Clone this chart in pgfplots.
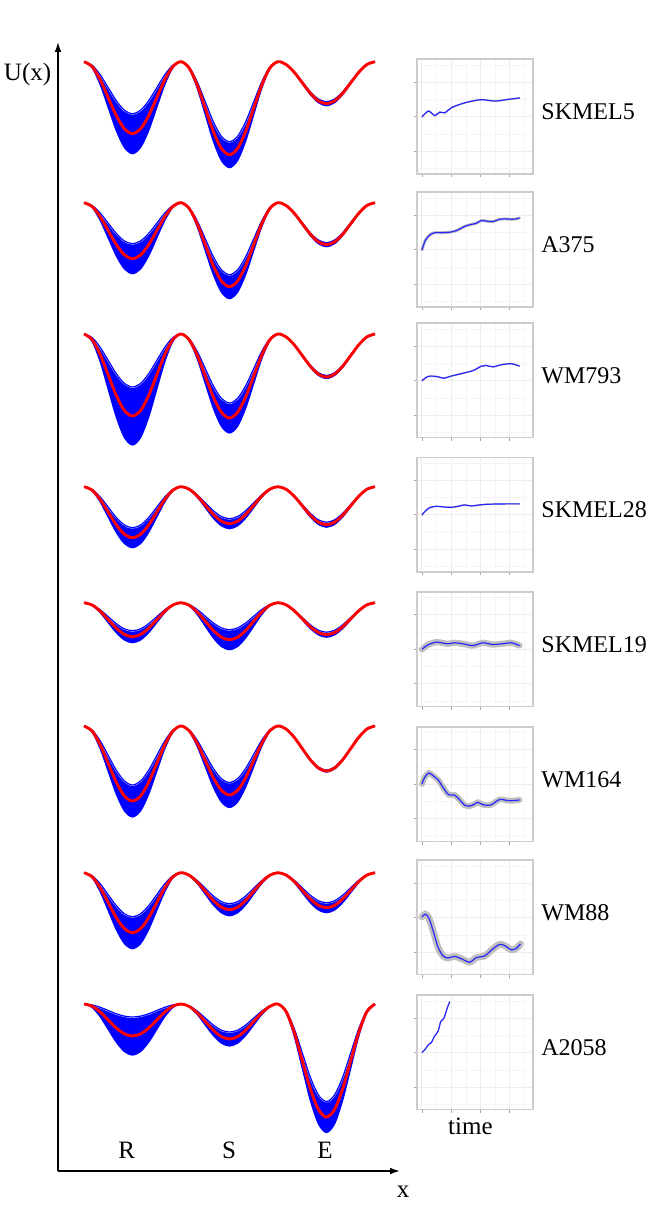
\documentclass[border=0pt]{standalone}
\usepackage{fontspec}
\setmainfont{Liberation Serif}
\usepackage{pgfplots}
\usepackage{pgfplotstable}
\pgfplotsset{compat=1.18}
\usetikzlibrary{arrows.meta}

% potential wells: mean u and error e for the 8 cell lines (1..8 top to bottom)
\pgfplotstableread{
x      u1     e1    u2     e2    u3     e3    u4     e4   u5     e5   u6     e6    u7     e7    u8      e8
0      0      0     0      0     0      0     0      0    0      0    0      0     0      0     0       0
0.0833 -4.82  1.34  -3.75  1.0   -5.49  1.94  -3.42  0.67 -2.28  0.4  -5.03  1.07  -4.02  1.07  -2.14   1.27
0.1667 -18    5     -14    3.75  -20.5  7.25  -12.75 2.5  -8.5   1.5  -18.75 4     -15    4     -8      4.75
0.25   -36    10    -28    7.5   -41    14.5  -25.5  5    -17    3    -37.5  8     -30    8     -16     9.5
0.3333 -54    15    -42    11.25 -61.5  21.75 -38.25 7.5  -25.5  4.5  -56.25 12    -45    12    -24     14.25
0.4167 -67.18 18.66 -52.25 14    -76.51 27.06 -47.58 9.33 -31.72 5.6  -69.98 14.93 -55.98 14.93 -29.86  17.73
0.5    -72    20    -56    15    -82    29    -51    10   -34    6    -75    16    -60    16    -32     19
0.5833 -67.18 18.66 -52.25 14    -76.51 27.06 -47.58 9.33 -31.72 5.6  -69.98 14.93 -55.98 14.93 -29.86  17.73
0.6667 -54    15    -42    11.25 -61.5  21.75 -38.25 7.5  -25.5  4.5  -56.25 12    -45    12    -24     14.25
0.75   -36    10    -28    7.5   -41    14.5  -25.5  5    -17    3    -37.5  8     -30    8     -16     9.5
0.8333 -18    5     -14    3.75  -20.5  7.25  -12.75 2.5  -8.5   1.5  -18.75 4     -15    4     -8      4.75
0.9167 -4.82  1.34  -3.75  1.0   -5.49  1.94  -3.42  0.67 -2.28  0.4  -5.03  1.07  -4.02  1.07  -2.14   1.27
1      0      0     0      0     0      0     0      0    0      0    0      0     0      0     0       0
1.0833 -6.23  0.87  -5.63  0.8   -5.63  1.0   -2.48  0.34 -2.48  0.67 -4.62  0.84  -2.48  0.4   -2.35   0.47
1.1667 -23.25 3.25  -21    3     -21    3.75  -9.25  1.25 -9.25  2.5  -17.25 3.13  -9.25  1.5   -8.75   1.75
1.25   -46.5  6.5   -42    6     -42    7.5   -18.5  2.5  -18.5  5    -34.5  6.25  -18.5  3     -17.5   3.5
1.3333 -69.75 9.75  -63    9     -63    11.25 -27.75 3.75 -27.75 7.5  -51.75 9.38  -27.75 4.5   -26.25  5.25
1.4167 -86.77 12.13 -78.37 11.2  -78.37 14    -34.52 4.67 -34.52 9.33 -64.38 11.66 -34.52 5.6   -32.66  6.53
1.5    -93    13    -84    12    -84    15    -37    5    -37    10   -69    12.5  -37    6     -35     7
1.5833 -86.77 12.13 -78.37 11.2  -78.37 14    -34.52 4.67 -34.52 9.33 -64.38 11.66 -34.52 5.6   -32.66  6.53
1.6667 -69.75 9.75  -63    9     -63    11.25 -27.75 3.75 -27.75 7.5  -51.75 9.38  -27.75 4.5   -26.25  5.25
1.75   -46.5  6.5   -42    6     -42    7.5   -18.5  2.5  -18.5  5    -34.5  6.25  -18.5  3     -17.5   3.5
1.8333 -23.25 3.25  -21    3     -21    3.75  -9.25  1.25 -9.25  2.5  -17.25 3.13  -9.25  1.5   -8.75   1.75
1.9167 -6.23  0.87  -5.63  0.8   -5.63  1.0   -2.48  0.34 -2.48  0.67 -4.62  0.84  -2.48  0.4   -2.35   0.47
2      0      0     0      0     0      0     0      0    0      0    0      0     0      0     0       0
2.0833 -2.81  0.13  -2.81  0.13  -2.88  0.1   -2.55  0.17 -2.14  0.17 -3.02  0.07  -2.35  0.34  -7.57   1.04
2.1667 -10.5  0.5   -10.5  0.5   -10.75 0.38  -9.5   0.63 -8     0.63 -11.25 0.25  -8.75  1.25  -28.25  3.88
2.25   -21    1     -21    1     -21.5  0.75  -19    1.25 -16    1.25 -22.5  0.5   -17.5  2.5   -56.5   7.75
2.3333 -31.5  1.5   -31.5  1.5   -32.25 1.13  -28.5  1.88 -24    1.88 -33.75 0.75  -26.25 3.75  -84.75  11.63
2.4167 -39.19 1.87  -39.19 1.87  -40.12 1.4   -35.45 2.33 -29.86 2.33 -41.99 0.93  -32.66 4.67  -105.43 14.46
2.5    -42    2     -42    2     -43    1.5   -38    2.5  -32    2.5  -45    1     -35    5     -113    15.5
2.5833 -39.19 1.87  -39.19 1.87  -40.12 1.4   -35.45 2.33 -29.86 2.33 -41.99 0.93  -32.66 4.67  -105.43 14.46
2.6667 -31.5  1.5   -31.5  1.5   -32.25 1.13  -28.5  1.88 -24    1.88 -33.75 0.75  -26.25 3.75  -84.75  11.63
2.75   -21    1     -21    1     -21.5  0.75  -19    1.25 -16    1.25 -22.5  0.5   -17.5  2.5   -56.5   7.75
2.8333 -10.5  0.5   -10.5  0.5   -10.75 0.38  -9.5   0.63 -8     0.63 -11.25 0.25  -8.75  1.25  -28.25  3.88
2.9167 -2.81  0.13  -2.81  0.13  -2.88  0.1   -2.55  0.17 -2.14  0.17 -3.02  0.07  -2.35  0.34  -7.57   1.04
3      0      0     0      0     0      0     0      0    0      0    0      0     0      0     0       0
}\pot

% time courses (t, value)
\pgfplotstableread{
t y
0 1.00
0.22 1.17
0.44 1.04
0.61 1.14
0.78 1.12
1.01 1.27
1.47 1.41
2.01 1.50
2.49 1.46
2.95 1.51
3.34 1.55
}\tsA
\pgfplotstableread{
t y
0 1.00
0.11 1.27
0.26 1.43
0.43 1.50
0.66 1.50
1.00 1.52
1.23 1.58
1.45 1.68
1.68 1.74
1.85 1.77
2.02 1.85
2.25 1.83
2.42 1.82
2.65 1.89
2.82 1.90
3.05 1.89
3.22 1.90
3.33 1.93
}\tsB
\pgfplotstableread{
t y
0 1.00
0.20 1.12
0.38 1.13
0.55 1.11
0.75 1.07
0.94 1.12
1.23 1.18
1.57 1.25
1.80 1.31
2.02 1.42
2.19 1.44
2.42 1.40
2.70 1.46
2.99 1.49
3.16 1.47
3.33 1.42
}\tsC
\pgfplotstableread{
t y
0 1.00
0.11 1.11
0.26 1.21
0.49 1.25
0.77 1.23
1.00 1.22
1.23 1.25
1.45 1.29
1.68 1.26
1.97 1.29
2.25 1.31
2.82 1.32
3.33 1.32
}\tsD
\pgfplotstableread{
t y
0 1.00
0.20 1.13
0.49 1.21
0.72 1.18
0.89 1.16
1.11 1.19
1.40 1.16
1.74 1.11
2.08 1.19
2.42 1.14
2.82 1.17
3.05 1.19
3.33 1.11
}\tsE
\pgfplotstableread{
t y
0 1.01
0.09 1.20
0.23 1.33
0.38 1.25
0.55 1.13
0.72 0.91
0.91 0.70
1.11 0.69
1.28 0.56
1.45 0.40
1.63 0.37
1.80 0.43
1.91 0.48
2.08 0.41
2.34 0.40
2.65 0.56
2.93 0.53
3.16 0.53
3.33 0.55
}\tsF
\pgfplotstableread{
t y
0 1.02
0.11 1.10
0.23 1.00
0.38 0.62
0.55 0.14
0.72 -0.11
0.89 -0.17
1.11 -0.12
1.34 -0.19
1.63 -0.29
1.85 -0.16
2.14 -0.11
2.36 0.05
2.63 0.22
2.82 0.19
3.05 0.07
3.22 0.11
3.36 0.24
}\tsG
\pgfplotstableread{
t y
0 1.00
0.11 1.10
0.23 1.24
0.32 1.29
0.43 1.48
0.55 1.62
0.64 1.90
0.75 2.00
0.86 2.29
0.95 2.48
}\tsH

\pgfplotsset{
  potax/.style={hide axis, clip=false, anchor=north west,
    x=48.5pt, y=0.5pt, xmin=0, xmax=3, ymin=-130, ymax=0, enlargelimits=false},
  panelax/.style={scale only axis, width=58pt, height=57.3pt, anchor=north west,
    xmin=-0.17, xmax=3.79, ymin=-0.65, ymax=2.67, enlargelimits=false, clip=false,
    xtick={0,1,2,3}, ytick={0,1,2},
    minor xtick={0.5,1.5,2.5,3.5}, minor ytick={-0.5,0.5,1.5,2.5},
    xticklabels={}, yticklabels={},
    grid=both,
    major grid style={gray!14, line width=0.5pt},
    minor grid style={gray!8, line width=0.35pt},
    tick align=outside, tick pos=left,
    major tick length=1.6pt, minor tick length=0pt,
    tick style={gray!70, line width=0.45pt},
    axis line style={gray!40, line width=0.8pt}},
}

% #1 column index, #2 y position of the peaks, #3 extra content
\newcommand\potrow[3]{%
\begin{axis}[potax, at={(42pt,#2)}]
\addplot[draw=none, fill=blue, smooth] table[x=x, y expr=\thisrow{u#1}-\thisrow{e#1}] {\pot} \closedcycle;
\addplot[draw=white, line width=0.9pt, fill=white, smooth] table[x=x, y expr=\thisrow{u#1}+\thisrow{e#1}] {\pot} \closedcycle;
\addplot[blue, line width=0.6pt, smooth] table[x=x, y expr=\thisrow{u#1}+\thisrow{e#1}] {\pot};
\addplot[blue, line width=0.6pt, smooth] table[x=x, y expr=\thisrow{u#1}-\thisrow{e#1}] {\pot};
\addplot[red, line width=1.45pt, smooth] table[x=x, y=u#1] {\pot};
#3
\end{axis}}

% #1 table, #2 top of the box, #3 label, #4 ribbon width, #5 extra content
\newcommand\panel[5]{%
\begin{axis}[panelax, at={(208.5pt,#2)}]
\addplot[gray!50, line width=#4, line cap=round, smooth] table[x=t, y=y] {#1};
\addplot[blue!85!white, line width=0.6pt, smooth] table[x=t, y=y] {#1};
\node[anchor=west, inner sep=0pt, font=\fontsize{12pt}{14pt}\selectfont] at (rel axis cs:1.069,0.54) {#3};
#5
\end{axis}}

\begin{document}
\fontsize{12.5pt}{14.5pt}\selectfont
\begin{tikzpicture}
\useasboundingbox (0,0) rectangle (325pt,-604pt);

\begin{axis}[at={(29pt,-585.5pt)}, anchor=south west,
  scale only axis, width=171pt, height=564.5pt,
  axis lines=left, xmin=0, xmax=1, ymin=0, ymax=1,
  xtick=\empty, ytick=\empty,
  axis line style={line width=0.75pt, -{Latex[length=5pt,width=3.4pt]}},
  every axis x label/.style={at={(rel axis cs:1.009,-0.0186)}, anchor=center},
  every axis y label/.style={at={(rel axis cs:-0.089,0.9715)}, anchor=center},
  xlabel={x}, ylabel={U(x)}]
\end{axis}

\potrow{1}{-30.85pt}{}
\potrow{2}{-101.35pt}{}
\potrow{3}{-167pt}{}
\potrow{4}{-243.35pt}{}
\potrow{5}{-301.35pt}{}
\potrow{6}{-363pt}{}
\potrow{7}{-436.35pt}{}
\potrow{8}{-502pt}{%
  \node at (axis cs:0.44,-146) {R};
  \node at (axis cs:1.495,-146) {S};
  \node at (axis cs:2.485,-146) {E};}

\panel{\tsA}{-29.65pt}{SKMEL5}{0.8pt}{}
\panel{\tsB}{-96.15pt}{A375}{1.5pt}{}
\panel{\tsC}{-161.5pt}{WM793}{0.8pt}{}
\panel{\tsD}{-228.65pt}{SKMEL28}{0.8pt}{}
\panel{\tsE}{-295.85pt}{SKMEL19}{3.1pt}{}
\panel{\tsF}{-363.35pt}{WM164}{2.9pt}{}
\panel{\tsG}{-430pt}{WM88}{3.4pt}{}
\panel{\tsH}{-497.5pt}{A2058}{0.6pt}{\node at (rel axis cs:0.46,-0.15) {time};}
\end{tikzpicture}
\end{document}
